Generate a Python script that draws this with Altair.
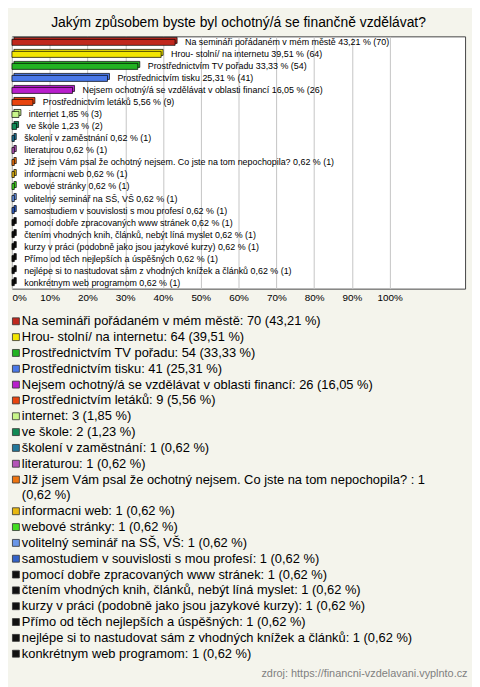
import altair as alt
import pandas as pd

categories = [
    "Na semináři pořádaném v mém městě",
    "Hrou- stolní/ na internetu",
    "Prostřednictvím TV pořadu",
    "Prostřednictvím tisku",
    "Nejsem ochotný/á se vzdělávat v oblasti financí",
    "Prostřednictvím letáků",
    "internet",
    "ve škole",
    "školení v zaměstnání",
    "literaturou",
    "JIž jsem Vám psal že ochotný nejsem. Co jste na tom nepochopila? ",
    "informacni web",
    "webové stránky",
    "volitelný seminář na SŠ, VŠ",
    "samostudiem v souvislosti s mou profesí",
    "pomocí dobře zpracovaných www stránek",
    "čtením vhodných knih, článků, nebýt líná myslet",
    "kurzy v práci (podobně jako jsou jazykové kurzy)",
    "Přímo od těch nejlepších a úspěšných",
    "nejlépe si to nastudovat sám z vhodných knížek a článků",
    "konkrétnym web programom",
]
counts = [70, 64, 54, 41, 26, 9, 3, 2, 1, 1, 1, 1, 1, 1, 1, 1, 1, 1, 1, 1, 1]
percents = [43.21, 39.51, 33.33, 25.31, 16.05, 5.56, 1.85, 1.23,
            0.62, 0.62, 0.62, 0.62, 0.62, 0.62, 0.62, 0.62, 0.62, 0.62, 0.62, 0.62, 0.62]
colors = [
    "#c0281e", "#f2e600", "#22b322", "#4a78e8", "#b81ecc", "#e8440f",
    "#c8f58a", "#118a55", "#22779a", "#b455b8", "#ee7410", "#e8b812",
    "#44dd22", "#6a96e8", "#3362c8", "#111111", "#111111", "#111111",
    "#111111", "#111111", "#111111",
]
x_ticks = [0, 10, 20, 30, 40, 50, 60, 70, 80, 90, 100]
source_text = "zdroj: https://financni-vzdelavani.vyplnto.cz"
title_text = "Jakým způsobem byste byl ochotný/á se finančně vzdělávat?"

FONT = "Liberation Sans"


def fmt(p):
    return f"{p:.2f}".replace(".", ",")


df = pd.DataFrame({
    "cat": categories,
    "count": counts,
    "pct": percents,
})
df["label"] = [f"{c} {fmt(p)} % ({n})" for c, n, p in zip(categories, counts, percents)]

# legend lines (with simple word wrap)
def wrap(text, limit=72):
    words = text.split(" ")
    lines, cur = [], ""
    for w in words:
        cand = (cur + " " + w) if cur else w
        if len(cand) > limit and cur:
            lines.append(cur)
            cur = w
        else:
            cur = cand
    lines.append(cur)
    return lines

rows = []
line = 0
for c, n, p in zip(categories, counts, percents):
    parts = wrap(f"{c}: {n} ({fmt(p)} %)")
    for j, part in enumerate(parts):
        rows.append({"cat": c, "line": line, "text": part, "first": j == 0})
        line += 1
leg = pd.DataFrame(rows)
n_lines = line

color_scale = alt.Scale(domain=categories, range=colors)
y_enc = alt.Y("cat:N", sort=categories, axis=None,
              scale=alt.Scale(paddingInner=0.5, paddingOuter=0.25))
x_enc = alt.X("pct:Q", scale=alt.Scale(domain=[0, 120], nice=False),
              axis=alt.Axis(values=x_ticks, labelExpr="datum.value + '%'",
                            grid=True, gridColor="#c4c4c4", gridWidth=1,
                            domain=False, ticks=False, labelFontSize=10,
                            labelFont=FONT, labelColor="#000",
                            labelPadding=4, title=None))

base = alt.Chart(df)
back = base.mark_bar(xOffset=2, yOffset=-2, stroke="#000", strokeWidth=0.7).encode(
    x=x_enc, y=y_enc,
    color=alt.Color("cat:N", scale=color_scale, legend=None),
)
front = base.mark_bar(stroke="#000", strokeWidth=0.7).encode(
    x="pct:Q", y=alt.Y("cat:N", sort=categories),
    color=alt.Color("cat:N", scale=color_scale, legend=None),
)
labels = base.mark_text(align="left", dx=10, fontSize=9, font=FONT, color="#000").encode(
    x="pct:Q", y=alt.Y("cat:N", sort=categories), text="label:N"
)

bars = alt.layer(back, front, labels).properties(
    width=458, height=255,
    title=alt.TitleParams(title_text, fontSize=14, font=FONT, fontWeight="normal",
                          anchor="middle", offset=6, color="#000"),
    view=alt.ViewBackground(fill="white", stroke="#444", strokeWidth=1),
)

lbase = alt.Chart(leg)
ly = alt.Y("line:Q", scale=alt.Scale(domain=[-0.5, n_lines - 0.5], reverse=True, nice=False, zero=False), axis=None)
squares = lbase.transform_filter("datum.first").mark_square(
    size=49, opacity=1, stroke="#333", strokeWidth=0.8
).encode(
    x=alt.value(4), y=ly,
    color=alt.Color("cat:N", scale=color_scale, legend=None),
)
ltext = lbase.mark_text(align="left", baseline="middle", fontSize=13, font=FONT, color="#000").encode(
    x=alt.value(10), y=ly, text="text:N"
)
legend_panel = alt.layer(squares, ltext).properties(
    width=458, height=n_lines * 16,
    view=alt.ViewBackground(stroke="transparent"),
)

chart = alt.vconcat(bars, legend_panel, spacing=9).properties(
    background="#f4f4ec",
    padding={"left": 2, "top": 4, "right": 4, "bottom": 4},
    title=alt.TitleParams(source_text, orient="bottom", anchor="end", fontSize=11,
                          font=FONT, fontWeight="normal", color="#808080", offset=6, dx=2),
).resolve_scale(color="shared")

chart.save("out.html", embed_options={"renderer": "svg", "actions": False})
